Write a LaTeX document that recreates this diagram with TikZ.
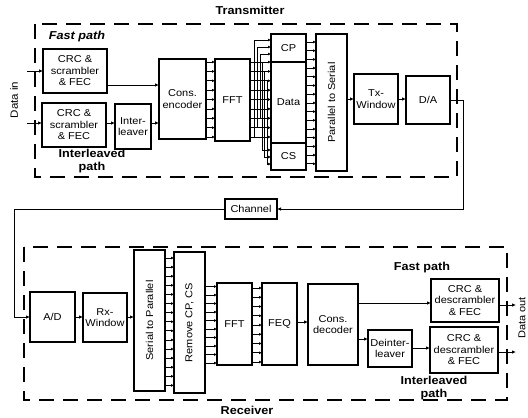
\documentclass[tikz,border=0pt]{standalone}
\usepackage{fontspec}
\setmainfont{Liberation Sans}[FakeStretch=1.1]
\usepackage{graphicx}
\usetikzlibrary{arrows.meta}

\begin{document}
\begin{tikzpicture}[
    x=1pt, y=-1pt,
    blk/.style={rectangle, draw, line width=1.1pt, inner sep=1pt, outer sep=0pt, align=center, font=\fontsize{10}{11.5}\selectfont},
    grp/.style={line width=1.1pt, dash pattern=on 15pt off 9pt},
    lbl/.style={font=\fontsize{11.5}{13}\selectfont\bfseries, align=center},
    arrow/.style={-{Latex[length=4pt,width=3.5pt]}, line width=0.9pt},
    bus/.style={-{Latex[length=3pt,width=3pt]}, line width=0.7pt},
    tap/.style={line width=0.7pt}
]
    \useasboundingbox (0,0) rectangle (528,418);

    % group outlines
    \draw[grp] (35,24) rectangle (457,177);
    \draw[grp] (24,247) rectangle (507,400);

    % transmitter
    \node[blk, minimum width=64pt, minimum height=44pt] (crcFast) at (75,71) {CRC \&\\scrambler\\\& FEC};
    \node[blk, minimum width=64pt, minimum height=44pt] (crcIlv) at (74,125) {CRC \&\\scrambler\\\& FEC};
    \node[blk, minimum width=36pt, minimum height=45pt] (ilv) at (133,126.5) {Inter-\\leaver};
    \node[blk, minimum width=47pt, minimum height=80pt] (enc) at (182.5,99) {Cons.\\encoder};
    \node[blk, minimum width=35pt, minimum height=82pt] (ifft) at (232.5,100) {FFT};
    \node[blk, minimum width=35pt, minimum height=28pt] (cp) at (288.5,48) {CP};
    \node[blk, minimum width=35pt, minimum height=81pt] (data) at (288.5,102.5) {Data};
    \node[blk, minimum width=35pt, minimum height=27pt] (cs) at (288.5,156.5) {CS};
    \node[blk, minimum width=31pt, minimum height=137pt] (ps) at (331.5,102.5) {\rotatebox{90}{Parallel to Serial}};
    \node[blk, minimum width=44pt, minimum height=50pt] (txwin) at (376,99) {Tx-\\Window};
    \node[blk, minimum width=44pt, minimum height=48pt] (dac) at (428,100) {D/A};
    \node[blk, minimum width=52pt, minimum height=20pt] (chan) at (251,209) {Channel};

    % receiver
    \node[blk, minimum width=45pt, minimum height=50pt] (adc) at (52.5,317) {A/D};
    \node[blk, minimum width=44pt, minimum height=49pt] (rxwin) at (105,317.5) {Rx-\\Window};
    \node[blk, minimum width=31pt, minimum height=141pt] (sp) at (149.5,320.5) {\rotatebox{90}{Serial to Parallel}};
    \node[blk, minimum width=31pt, minimum height=141pt] (rmcp) at (189.5,322.5) {\rotatebox{90}{Remove CP, CS}};
    \node[blk, minimum width=35pt, minimum height=82pt] (fft) at (234.5,324) {FFT};
    \node[blk, minimum width=35pt, minimum height=82pt] (feq) at (279.5,324) {FEQ};
    \node[blk, minimum width=50pt, minimum height=81pt] (dec) at (333,324.5) {Cons.\\decoder};
    \node[blk, minimum width=44pt, minimum height=37pt] (deilv) at (390,348.5) {Deinter-\\leaver};
    \node[blk, minimum width=68pt, minimum height=43pt] (crcFastR) at (465,300.5) {CRC \&\\descrambler\\\& FEC};
    \node[blk, minimum width=68pt, minimum height=46pt] (crcIlvR) at (464,350) {CRC \&\\descrambler\\\& FEC};

    % labels
    \node[lbl] (txlbl) at (250,10) {Transmitter};
    \node[lbl] (rxlbl) at (247,410) {Receiver};
    \node[lbl, font=\fontsize{11.5}{13}\selectfont\bfseries\itshape] (fastT) at (77,37) {Fast path};
    \node[lbl] (ilvT) at (92,161) {Interleaved\\path};
    \node[lbl] (fastR) at (422,268) {Fast path};
    \node[lbl] (ilvR) at (434,388) {Interleaved\\path};
    \node[rotate=90, font=\fontsize{10.5}{12}\selectfont] (datain) at (14,100) {Data in};
    \node[rotate=90, font=\fontsize{10}{12}\selectfont, inner sep=1pt] (dataout) at (522,318) {Data out};

    \coordinate (inA) at (27,71);
    \coordinate (inB) at (27,123);
    \coordinate (outA) at (516,305);
    \coordinate (outB) at (516,352);

    % transmitter connections
    \draw[arrow] (inA) -- (crcFast.west);
    \draw[arrow] (inB) -- (crcIlv.west |- inB);
    \draw[arrow] (crcFast.east |- 0,85) -- (enc.west |- 0,85);
    \draw[arrow] (crcIlv.east |- inB) -- (ilv.west |- inB);
    \draw[arrow] (ilv.east |- inB) -- (enc.west |- inB);
    \foreach \i [evaluate=\i as \yy using 62+9.375*\i] in {0,...,8} {
        \draw[bus] (enc.east |- 0,\yy) -- (ifft.west |- 0,\yy);
        \draw[bus] (ifft.east |- 0,\yy) -- (data.west |- 0,\yy);
    }
    % copies to CP and CS
    \draw[tap, -{Latex[length=3pt,width=3pt]}] (260,118.25) |- (cp.west |- 0,54);
    \draw[tap, -{Latex[length=3pt,width=3pt]}] (257,127.625) |- (cp.west |- 0,47);
    \draw[tap, -{Latex[length=3pt,width=3pt]}] (254,137) |- (cp.west |- 0,40);
    \draw[tap, -{Latex[length=3pt,width=3pt]}] (262,62) |- (cs.west |- 0,150);
    \draw[tap, -{Latex[length=3pt,width=3pt]}] (264.5,71.375) |- (cs.west |- 0,157);
    \draw[tap, -{Latex[length=3pt,width=3pt]}] (267,80.75) |- (cs.west |- 0,164);
    \foreach \i [evaluate=\i as \yy using 42+8.7*\i] in {0,...,14} {
        \draw[bus] (data.east |- 0,\yy) -- (ps.west |- 0,\yy);
    }
    \draw[arrow] (ps.east |- txwin) -- (txwin.west);
    \draw[arrow] (txwin.east) -- (dac.west |- txwin);
    \draw[arrow] (dac.east) -- ++(13,0) |- (chan.east);
    \draw[arrow] (chan.west) -- ++(-211,0) |- (adc.west);

    % receiver connections
    \draw[arrow] (adc.east) -- (rxwin.west |- adc);
    \draw[arrow] (rxwin.east |- adc) -- (sp.west |- adc);
    \foreach \i [evaluate=\i as \yy using 258+9.1*\i] in {0,...,14} {
        \draw[bus] (sp.east |- 0,\yy) -- (rmcp.west |- 0,\yy);
    }
    \foreach \i [evaluate=\i as \yy using 286.5+8.5*\i] in {0,...,9} {
        \draw[bus] (rmcp.east |- 0,\yy) -- (fft.west |- 0,\yy);
    }
    \foreach \i [evaluate=\i as \yy using 288+9.25*\i] in {0,...,8} {
        \draw[bus] (fft.east |- 0,\yy) -- (feq.west |- 0,\yy);
    }
    \draw[arrow] (feq.east |- 0,322) -- (dec.west |- 0,322);
    \draw[arrow] (dec.east |- 0,303) -- (crcFastR.west |- 0,303);
    \draw[arrow] (dec.east |- 0,339) -- (deilv.west |- 0,339);
    \draw[arrow] (deilv.east |- 0,348) -- (crcIlvR.west |- 0,348);
    \draw[arrow] (crcFastR.east |- outA) -- (outA);
    \draw[arrow] (crcIlvR.east |- outB) -- (outB);
\end{tikzpicture}
\end{document}
